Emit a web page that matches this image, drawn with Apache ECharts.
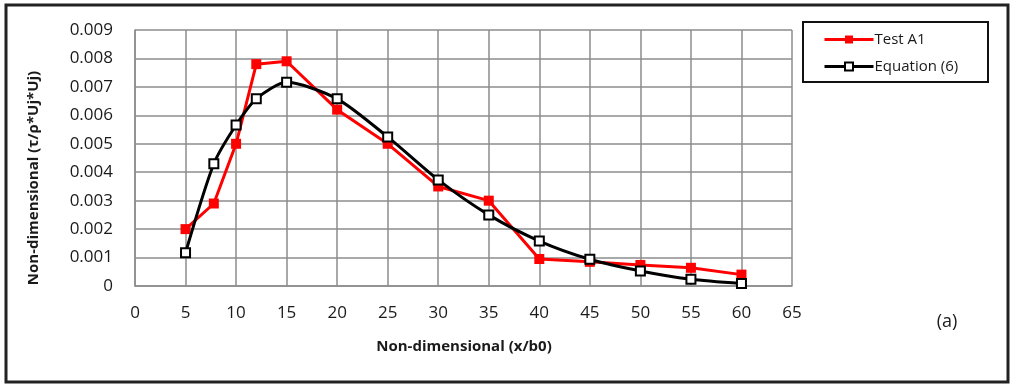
<!DOCTYPE html>
<html>
<head>
<meta charset="utf-8">
<script src="https://cdn.jsdelivr.net/npm/echarts@6/dist/echarts.min.js"></script>
<style>
  html, body { margin: 0; padding: 0; background: #fff; }
  #chart { width: 1010px; height: 385px; }
</style>
</head>
<body>
<div id="chart"></div>
<script>
// x positions (x/b0)
const xTest = [5, 7.8, 10, 12, 15, 20, 25, 30, 35, 40, 45, 50, 55, 60]
const testA1 = [0.002, 0.0029, 0.005, 0.0078, 0.0079, 0.0062, 0.005, 0.0035, 0.003, 0.00095, 0.00085, 0.00074, 0.00064, 0.0004]
const equation6 = [0.00117, 0.0043, 0.00566, 0.00658, 0.00716, 0.00658, 0.00524, 0.00373, 0.0025, 0.00158, 0.00094, 0.00053, 0.00024, 0.00009]
const seriesNames = ['Test A1', 'Equation (6)']

const font = 'Open Sans'
const gridColor = '#8c8c8c'

const chart = echarts.init(document.getElementById('chart'))

function pairs(xs, ys) {
  return xs.map((x, i) => [x, ys[i]])
}

chart.setOption({
  animation: false,
  grid: { left: 135, right: 218, top: 30, bottom: 99 },
  xAxis: {
    type: 'value',
    min: 0,
    max: 65,
    interval: 5,
    axisLine: { show: true, lineStyle: { color: gridColor, width: 1.5 } },
    axisTick: { show: false },
    splitLine: { show: true, lineStyle: { color: gridColor, width: 1.5 } },
    axisLabel: { color: '#1a1a1a', fontSize: 17, fontFamily: font, margin: 19 }
  },
  yAxis: {
    type: 'value',
    min: 0,
    max: 0.009,
    interval: 0.001,
    axisLine: { show: true, lineStyle: { color: gridColor, width: 1.5 } },
    axisTick: { show: false },
    splitLine: { show: true, lineStyle: { color: gridColor, width: 1.5 } },
    axisLabel: {
      color: '#1a1a1a', fontSize: 17, fontFamily: font, margin: 22,
      formatter: (v) => (v === 0 ? '0' : v.toFixed(3))
    }
  },
  legend: {
    orient: 'vertical',
    left: 818,
    top: 27,
    itemGap: 12,
    itemWidth: 49,
    itemHeight: 10,
    lineStyle: { width: 3 },
    textStyle: { color: '#1a1a1a', fontSize: 15, fontFamily: font, padding: [0, 0, 0, -4] },
    data: seriesNames
  },
  series: [
    {
      name: seriesNames[0],
      type: 'line',
      data: pairs(xTest, testA1),
      symbol: 'rect',
      symbolSize: 10,
      lineStyle: { color: '#f00', width: 3 },
      itemStyle: { color: '#f00' },
      z: 2
    },
    {
      name: seriesNames[1],
      type: 'line',
      data: pairs(xTest, equation6),
      smooth: 0.25,
      symbol: 'rect',
      symbolSize: 9,
      showAllSymbol: true,
      lineStyle: { color: '#000', width: 3 },
      itemStyle: { color: '#fff', borderColor: '#000', borderWidth: 2 },
      z: 3
    }
  ],
  graphic: [
    {
      type: 'rect',
      shape: { x: 6, y: 5, width: 1002, height: 377 },
      style: { fill: 'none', stroke: '#222', lineWidth: 3 },
      silent: true
    },
    {
      type: 'rect',
      shape: { x: 803, y: 22, width: 185, height: 60 },
      style: { fill: 'none', stroke: '#111', lineWidth: 2 },
      silent: true
    },
    {
      type: 'text',
      x: 464,
      y: 347,
      style: {
        text: 'Non-dimensional (x/b0)',
        font: 'bold 15px "Open Sans"',
        fill: '#1a1a1a',
        align: 'center',
        verticalAlign: 'middle'
      }
    },
    {
      type: 'text',
      x: 34,
      y: 178,
      rotation: Math.PI / 2,
      style: {
        text: 'Non-dimensional (τ/ρ*Uj*Uj)',
        font: 'bold 15px "Open Sans"',
        fill: '#1a1a1a',
        align: 'center',
        verticalAlign: 'middle'
      }
    },
    {
      type: 'text',
      x: 947,
      y: 322,
      style: {
        text: '(a)',
        font: '18px "Open Sans"',
        fill: '#1a1a1a',
        align: 'center',
        verticalAlign: 'middle'
      }
    }
  ]
})
</script>
</body>
</html>
